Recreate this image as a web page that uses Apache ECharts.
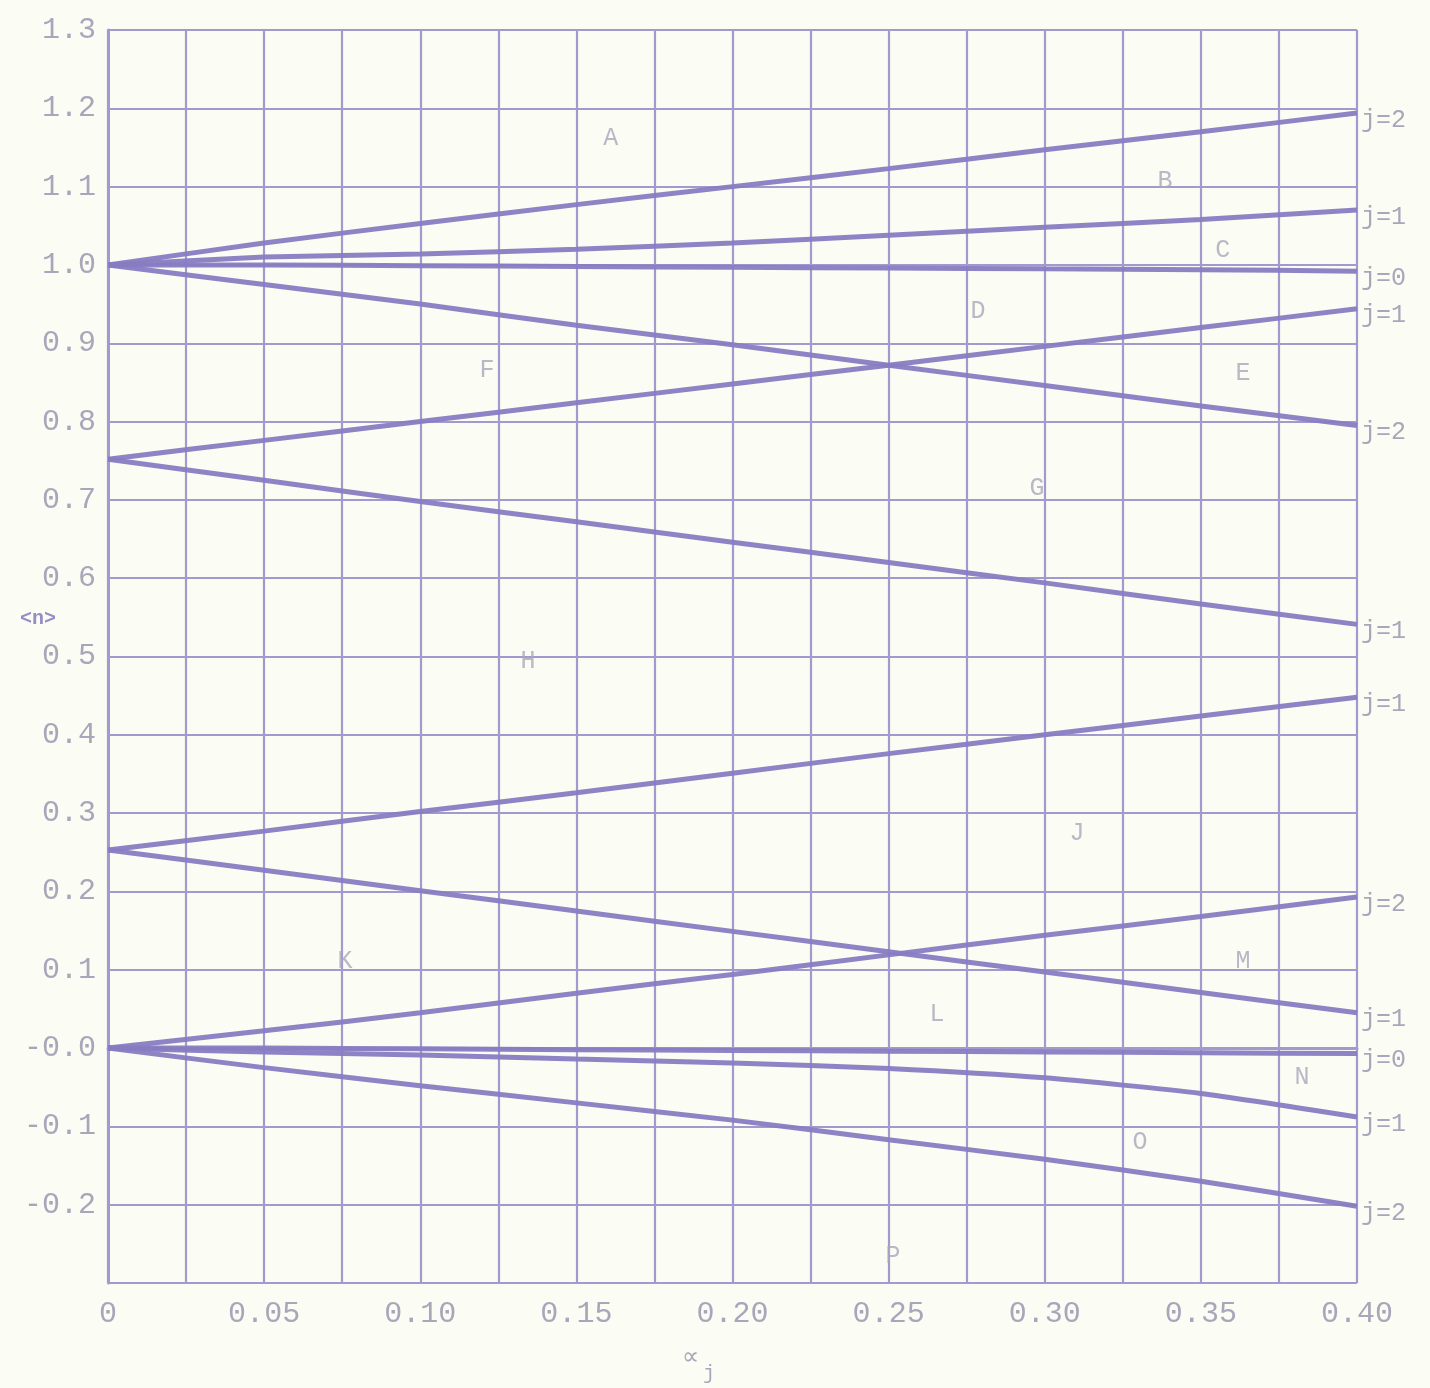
<!DOCTYPE html>
<html>
<head>
<meta charset="utf-8">
<script src="https://cdn.jsdelivr.net/npm/echarts@6/dist/echarts.min.js"></script>
<style>
html,body{margin:0;padding:0;background:#fbfcf3;}
#chart{width:1430px;height:1388px;}
</style>
</head>
<body>
<div id="chart"></div>
<script>
// ---- data ----
const xs = [0, 0.05, 0.10, 0.15, 0.20, 0.25, 0.30, 0.35, 0.40];

const topJ2Up   = [1.000, 1.028, 1.053, 1.077, 1.100, 1.123, 1.147, 1.170, 1.194];
const topJ1Up   = [1.000, 1.010, 1.014, 1.020, 1.028, 1.038, 1.048, 1.058, 1.070];
const topJ0     = [1.000, 1.000, 0.999, 0.998, 0.997, 0.996, 0.995, 0.994, 0.992];
const topJ2Down = [1.000, 0.975, 0.950, 0.923, 0.898, 0.872, 0.846, 0.820, 0.795];
const q3J1Up    = [0.752, 0.776, 0.800, 0.824, 0.848, 0.872, 0.896, 0.920, 0.944];
const q3J1Down  = [0.752, 0.725, 0.698, 0.672, 0.646, 0.620, 0.594, 0.567, 0.541];
const q1J1Up    = [0.253, 0.277, 0.302, 0.326, 0.351, 0.376, 0.400, 0.424, 0.448];
const q1J1Down  = [0.253, 0.227, 0.201, 0.175, 0.149, 0.123, 0.097, 0.071, 0.045];
const zJ2Up     = [0.000, 0.022, 0.045, 0.070, 0.094, 0.119, 0.144, 0.168, 0.193];
const zJ0       = [0.000, 0.000, -0.001, -0.002, -0.003, -0.004, -0.005, -0.006, -0.007];
const zJ1Down   = [0.000, -0.005, -0.009, -0.014, -0.019, -0.026, -0.038, -0.058, -0.088];
const zJ2Down   = [0.000, -0.025, -0.048, -0.070, -0.092, -0.117, -0.142, -0.170, -0.202];

const curves = [topJ2Up, topJ1Up, topJ0, topJ2Down, q3J1Up, q3J1Down, q1J1Up, q1J1Down, zJ2Up, zJ0, zJ1Down, zJ2Down];
const endLabels = ['j=2', 'j=1', 'j=0', 'j=2', 'j=1', 'j=1', 'j=1', 'j=1', 'j=2', 'j=0', 'j=1', 'j=2'];

const regionNames = ['A', 'B', 'C', 'D', 'E', 'F', 'G', 'H', 'J', 'K', 'L', 'M', 'N', 'O', 'P'];
const regionX = [0.161, 0.3385, 0.357, 0.2786, 0.3635, 0.1214, 0.2975, 0.1345, 0.3103, 0.0759, 0.2655, 0.3635, 0.3824, 0.3305, 0.2514];
const regionY = [1.161, 1.107, 1.018, 0.941, 0.862, 0.865, 0.715, 0.494, 0.2746, 0.111, 0.0434, 0.111, -0.038, -0.121, -0.266];

const yTickLabels = {'1.3':'1.3','1.2':'1.2','1.1':'1.1','1.0':'1.0','0.9':'0.9','0.8':'0.8','0.7':'0.7','0.6':'0.6','0.5':'0.5','0.4':'0.4','0.3':'0.3','0.2':'0.2','0.1':'0.1','0.0':'-0.0','-0.1':'-0.1','-0.2':'-0.2','-0.3':''};
const xTickLabels = {'0.000':'0','0.050':'0.05','0.100':'0.10','0.150':'0.15','0.200':'0.20','0.250':'0.25','0.300':'0.30','0.350':'0.35','0.400':'0.40'};

// ---- chart ----
const FONT = '"Liberation Mono", "DejaVu Sans Mono", monospace';
const TEXT = '#a9a6bb';
const GRIDC = '#a29ace';
const LINEC = '#877cc2';

const chart = echarts.init(document.getElementById('chart'), null, {renderer: 'canvas'});

const lineSeries = curves.map((c, i) => ({
  type: 'line',
  data: xs.map((x, k) => [x, c[k]]),
  showSymbol: false,
  smooth: 0.2,
  lineStyle: {color: LINEC, width: 5, opacity: 0.95},
  silent: true,
  endLabel: {
    show: true,
    formatter: endLabels[i],
    color: TEXT,
    fontFamily: FONT,
    fontSize: 25,
    distance: 4,
    offset: [0, 7]
  },
  z: 3
}));

const regionSeries = {
  type: 'scatter',
  symbolSize: 0,
  silent: true,
  data: regionNames.map((n, i) => [regionX[i], regionY[i], n]),
  label: {
    show: true,
    position: 'inside',
    formatter: p => p.data[2],
    color: TEXT,
    fontFamily: FONT,
    fontSize: 25
  },
  z: 4
};

chart.setOption({
  backgroundColor: '#fbfcf3',
  animation: false,
  grid: {left: 108, right: 73, top: 30, bottom: 105, containLabel: false},
  xAxis: {
    type: 'value',
    min: 0, max: 0.4, interval: 0.025,
    axisLine: {show: true, lineStyle: {color: GRIDC, width: 3}},
    axisTick: {show: false},
    splitLine: {show: true, lineStyle: {color: GRIDC, width: 2.2}},
    axisLabel: {
      color: TEXT, fontFamily: FONT, fontSize: 30, margin: 16,
      formatter: v => { const k = v.toFixed(3); return xTickLabels[k] !== undefined ? xTickLabels[k] : ''; }
    }
  },
  yAxis: {
    type: 'value',
    min: -0.3, max: 1.3, interval: 0.1,
    axisLine: {show: true, lineStyle: {color: GRIDC, width: 3}},
    axisTick: {show: false},
    splitLine: {show: true, lineStyle: {color: GRIDC, width: 2.2}},
    axisLabel: {
      color: TEXT, fontFamily: FONT, fontSize: 30, margin: 12,
      formatter: v => { const k = (Math.abs(v) < 1e-9 ? 0 : v).toFixed(1); return yTickLabels[k] !== undefined ? yTickLabels[k] : ''; }
    }
  },
  graphic: [
    {type: 'text', left: 20, top: 609, style: {text: '<n>', fill: '#958dc4', font: 'bold 20px "Liberation Mono", monospace'}},
    {type: 'text', left: 682, top: 1346, style: {text: '\u221d', fill: TEXT, font: '24px "DejaVu Sans", sans-serif'}},
    {type: 'text', left: 703, top: 1364, style: {text: 'j', fill: TEXT, font: '20px "Liberation Mono", monospace'}}
  ],
  series: [...lineSeries, regionSeries]
});
</script>
</body>
</html>
